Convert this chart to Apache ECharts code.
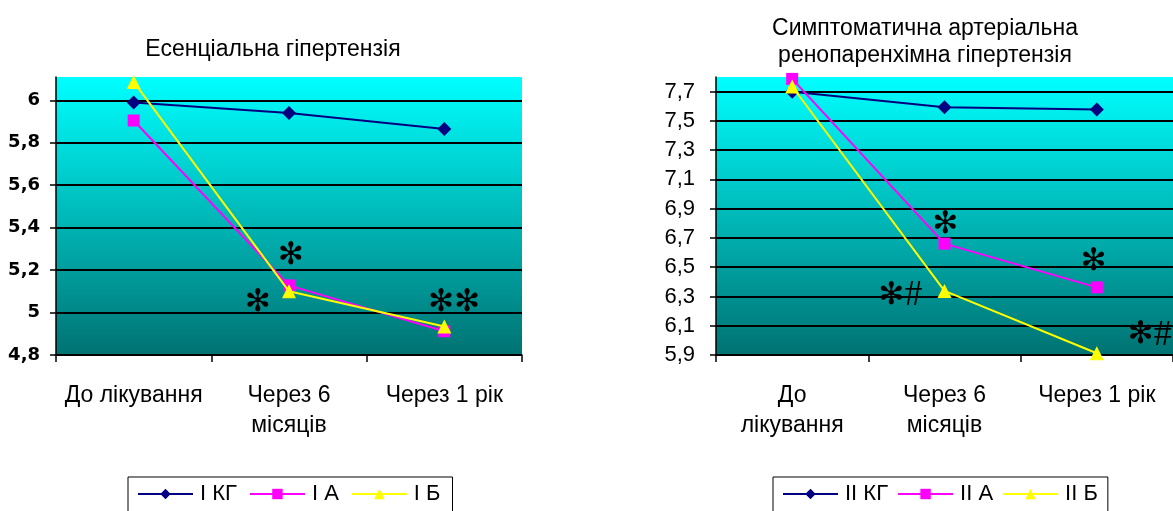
<!DOCTYPE html>
<html>
<head>
<meta charset="utf-8">
<script src="https://cdn.jsdelivr.net/npm/echarts@6/dist/echarts.min.js"></script>
<style>html,body{margin:0;padding:0;background:#fff}#c{width:1173px;height:511px}</style>
</head>
<body>
<div id="c"></div>
<script>
const categories = ['До лікування', 'Через 6 місяців', 'Через 1 рік'];

const titleLeft = 'Есенціальна гіпертензія';
const titleRight = 'Симптоматична артеріальна\nренопаренхімна гіпертензія';

const namesLeft = ['I КГ', 'I А', 'I Б'];
const namesRight = ['II КГ', 'II А', 'II Б'];

const leftKG = [5.99, 5.94, 5.865];
const leftA  = [5.905, 5.128, 4.912];
const leftB  = [6.087, 5.10, 4.934];

const rightKG = [7.70, 7.593, 7.578];
const rightA  = [7.787, 6.661, 6.362];
const rightB  = [7.735, 6.338, 5.912];

const yTicksLeft = [4.8, 5, 5.2, 5.4, 5.6, 5.8, 6];
const yTicksRight = [5.9, 6.1, 6.3, 6.5, 6.7, 6.9, 7.1, 7.3, 7.5, 7.7];

// annotations: [seriesName, categoryIndex, text]
const annLeft = [['I А', 1, '✻'], ['I Б', 1, '✻'], ['I Б', 2, '✻✻']];
const annRight = [['II А', 1, '✻'], ['II Б', 1, '✻#'], ['II А', 2, '✻'], ['II Б', 2, '✻#']];

const annOffsets = {
  'I А|1': [2, -29], 'I Б|1': [-31, 12], 'I Б|2': [10, -24],
  'II А|1': [1, -19], 'II Б|1': [-44, 5], 'II А|2': [-3, -25], 'II Б|2': [53, -18]
};

const chart = echarts.init(document.getElementById('c'));
const font = 'Liberation Sans, Arial, sans-serif';

const bg = new echarts.graphic.LinearGradient(0, 0, 0, 1, [
  { offset: 0, color: '#00ffff' },
  { offset: 1, color: '#007272' }
]);

const styles = [
  { color: '#000080', symbol: 'diamond', size: 14 },
  { color: '#ff00ff', symbol: 'rect', size: 12 },
  { color: '#ffff00', symbol: 'triangle', size: 14 }
];

function fmtNum(v) { return String(+v.toFixed(1)).replace('.', ','); }

function richText(t) {
  return t.split('').map(ch => ch === '#' ? '{h|#}' : '{s|' + ch + '}').join('');
}

function makeSeries(names, datas, anns, idx) {
  return names.map((n, i) => {
    const myAnns = anns.filter(a => a[0] === n);
    return {
      name: n, type: 'line', xAxisIndex: idx, yAxisIndex: idx,
      data: datas[i],
      symbol: styles[i].symbol, symbolSize: styles[i].size,
      lineStyle: { color: styles[i].color, width: 2 },
      itemStyle: { color: styles[i].color },
      z: 3 + i,
      animation: false,
      markPoint: myAnns.length ? {
        symbol: 'circle', symbolSize: 1,
        itemStyle: { color: 'rgba(0,0,0,0)' },
        animation: false,
        data: myAnns.map(a => ({
          coord: [a[1], datas[i][a[1]]],
          label: {
            show: true, position: 'inside',
            offset: annOffsets[a[0] + '|' + a[1]],
            formatter: richText(a[2]),
            rich: {
              s: { fontFamily: 'DejaVu Sans', fontSize: 31, color: '#000', verticalAlign: 'middle' },
              h: { fontFamily: 'Liberation Serif', fontSize: 36, color: '#000', verticalAlign: 'middle' }
            }
          }
        }))
      } : undefined
    };
  });
}

const legendText = { fontFamily: font, fontSize: 22, color: '#000', padding: [0, 0, 0, 2] };

const option = {
  backgroundColor: '#fff',
  animation: false,
  title: [
    { text: titleLeft, left: 268, top: 31, textAlign: 'center',
      textStyle: { fontFamily: font, fontSize: 23, fontWeight: 'normal', color: '#000', lineHeight: 27 } },
    { text: titleRight, left: 920, top: 10, textAlign: 'center',
      textStyle: { fontFamily: font, fontSize: 23, fontWeight: 'normal', color: '#000', lineHeight: 27 } }
  ],
  legend: [
    { data: namesLeft, left: 128, top: 477, orient: 'horizontal',
      itemWidth: 55, itemHeight: 13, itemGap: 12,
      borderColor: '#000', borderWidth: 1, padding: [6, 12, 20, 9],
      textStyle: legendText },
    { data: namesRight, left: 773, top: 477, orient: 'horizontal',
      itemWidth: 55, itemHeight: 13, itemGap: 9,
      borderColor: '#000', borderWidth: 1, padding: [6, 10, 20, 9],
      textStyle: legendText }
  ],
  grid: [
    { left: 56, right: 1173 - 522, top: 77, bottom: 511 - 355, show: true,
      backgroundColor: bg, borderWidth: 0 },
    { left: 716, right: 0, top: 77, bottom: 511 - 355, show: true,
      backgroundColor: bg, borderWidth: 0 }
  ],
  xAxis: [0, 1].map(i => ({
    type: 'category', gridIndex: i, data: categories, boundaryGap: true,
    axisLine: { lineStyle: { color: '#000', width: 1.5 } },
    axisTick: { show: true, length: 7, lineStyle: { color: '#000', width: 1.5 } },
    axisLabel: {
      margin: 26, color: '#000', fontFamily: font, fontSize: 23, lineHeight: 30,
      interval: 0,
      formatter: v => {
        if (v === 'Через 6 місяців') return 'Через 6\nмісяців';
        if (i === 1 && v === 'До лікування') return 'До\nлікування';
        return v;
      }
    },
    splitLine: { show: false }
  })),
  yAxis: [
    { type: 'value', gridIndex: 0, min: 4.8, max: 6.11, interval: 0.2,
      axisLine: { show: true, lineStyle: { color: '#000', width: 1.5 } },
      axisTick: { show: true, length: 6, lineStyle: { color: '#000', width: 1.5 } },
      axisLabel: { showMaxLabel: false, margin: 16, color: '#000', fontFamily: 'DejaVu Sans', fontSize: 18, fontWeight: 'bold',
        formatter: v => yTicksLeft.some(t => Math.abs(t - v) < 1e-6) ? fmtNum(v) : '' },
      splitLine: { show: true, showMaxLine: false, lineStyle: { color: '#000', width: 2 } }
    },
    { type: 'value', gridIndex: 1, min: 5.9, max: 7.8, interval: 0.2,
      axisLine: { show: true, lineStyle: { color: '#000', width: 1.5 } },
      axisTick: { show: true, length: 6, lineStyle: { color: '#000', width: 1.5 } },
      axisLabel: { showMaxLabel: false, margin: 21, color: '#000', fontFamily: font, fontSize: 22,
        formatter: v => yTicksRight.some(t => Math.abs(t - v) < 1e-6) ? fmtNum(v) : '' },
      splitLine: { show: true, showMaxLine: false, lineStyle: { color: '#000', width: 2 } }
    }
  ],
  series: [
    ...makeSeries(namesLeft, [leftKG, leftA, leftB], annLeft, 0),
    ...makeSeries(namesRight, [rightKG, rightA, rightB], annRight, 1)
  ]
};
chart.setOption(option);
</script>
</body>
</html>
